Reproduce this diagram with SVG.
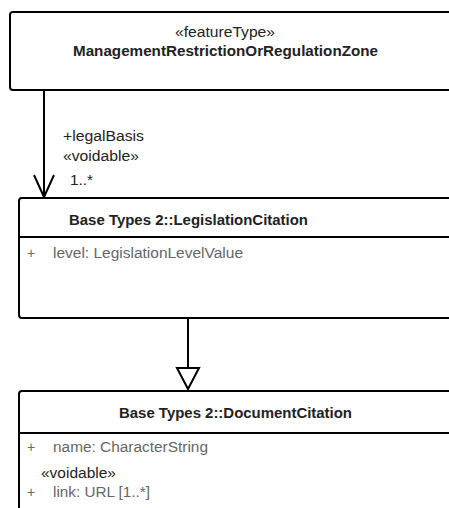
<svg xmlns="http://www.w3.org/2000/svg" width="449" height="508" viewBox="0 0 449 508">
<style>
.box{fill:#fff;stroke:#000;stroke-width:2}
.sep{stroke:#000;stroke-width:2}
.t{font-family:"Liberation Sans",Arial,sans-serif;font-size:14px;fill:#222}
.b{font-weight:bold}
.a{font-family:"Liberation Sans",Arial,sans-serif;font-size:14px;fill:#666}
.c{fill:none;stroke:#000;stroke-width:2}
</style>
<rect width="449" height="508" fill="#fff"/>
<g id="connectors">
<line class="c" x1="44" y1="90" x2="44" y2="197"/>
<polyline class="c" points="34,175 44,197 54,175"/>
<text class="t" x="63" y="141" textLength="81" lengthAdjust="spacingAndGlyphs">+legalBasis</text>
<text class="t" x="63" y="161" textLength="76" lengthAdjust="spacingAndGlyphs">«voidable»</text>
<text class="t" x="70" y="185" textLength="23" lengthAdjust="spacingAndGlyphs">1..*</text>
<line class="c" x1="188" y1="319" x2="188" y2="368"/>
<polygon class="c" points="177,368 199,368 188,389" style="fill:#fff"/>
</g>
<g id="zone">
<rect class="box" x="10" y="12" width="450" height="78" rx="3"/>
<text class="t" x="175" y="37" textLength="100" lengthAdjust="spacingAndGlyphs">«featureType»</text>
<text class="t b" x="73" y="56" textLength="305" lengthAdjust="spacingAndGlyphs">ManagementRestrictionOrRegulationZone</text>
</g>
<g id="legislation">
<rect class="box" x="19" y="198" width="450" height="120" rx="3"/>
<line class="sep" x1="19" y1="237" x2="449" y2="237"/>
<text class="t b" x="69" y="225" textLength="239" lengthAdjust="spacingAndGlyphs">Base Types 2::LegislationCitation</text>
<text class="a" x="27" y="258">+</text>
<text class="a" x="53" y="258" textLength="190" lengthAdjust="spacingAndGlyphs">level: LegislationLevelValue</text>
</g>
<g id="document">
<rect class="box" x="19" y="391" width="450" height="130" rx="3"/>
<line class="sep" x1="19" y1="433" x2="449" y2="433"/>
<text class="t b" x="119" y="418" textLength="233" lengthAdjust="spacingAndGlyphs">Base Types 2::DocumentCitation</text>
<text class="a" x="27" y="452">+</text>
<text class="a" x="53" y="452" textLength="155" lengthAdjust="spacingAndGlyphs">name: CharacterString</text>
<text class="t" x="41" y="478" textLength="75" lengthAdjust="spacingAndGlyphs">«voidable»</text>
<text class="a" x="27" y="497">+</text>
<text class="a" x="53" y="497" textLength="97" lengthAdjust="spacingAndGlyphs">link: URL [1..*]</text>
</g>
</svg>
